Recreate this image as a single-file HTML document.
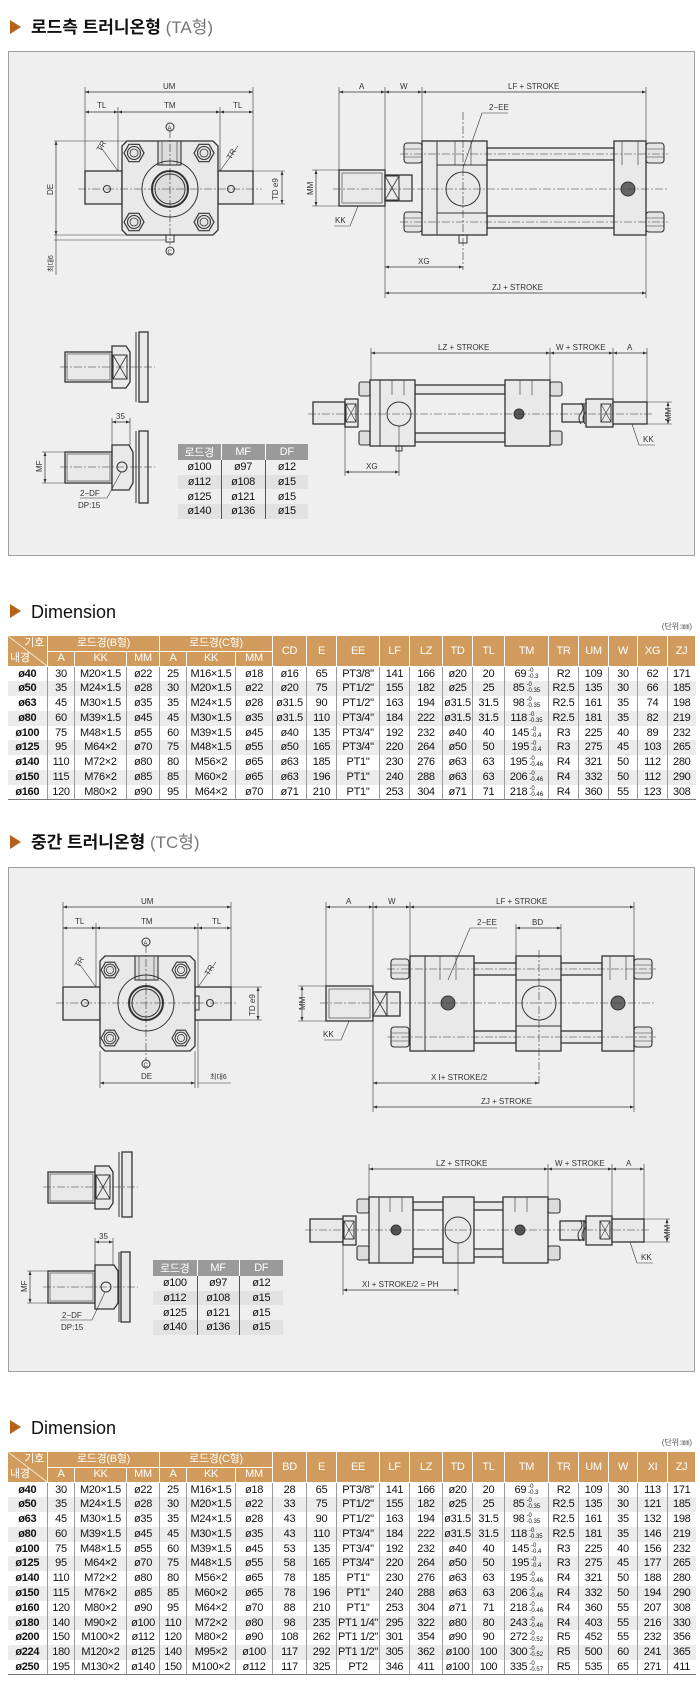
<!DOCTYPE html>
<html><head><meta charset="utf-8">
<style>
*{margin:0;padding:0;box-sizing:border-box}
body{width:700px;height:1700px;background:#fff;position:relative;overflow:hidden;font-family:"Liberation Sans Narrow","Liberation Sans","Noto Sans CJK KR",sans-serif}
.ttl{position:absolute;left:10px;font:bold 17px "Liberation Sans","Noto Sans CJK KR",sans-serif;color:#111;line-height:20px}
.ttl i{display:inline-block;width:0;height:0;border-left:11px solid #b4611a;border-top:7px solid transparent;border-bottom:7px solid transparent;margin-right:10px;vertical-align:-1px}
.ttl span{font-weight:normal;color:#777}
.dim{position:absolute;left:10px;font:18px "Liberation Sans",sans-serif;color:#111;line-height:20px}
.dim i{display:inline-block;width:0;height:0;border-left:11px solid #b4611a;border-top:7px solid transparent;border-bottom:7px solid transparent;margin-right:10px;vertical-align:0}
.unit{position:absolute;right:8px;font:8px "Liberation Sans","Noto Sans CJK KR",sans-serif;color:#555}
.box{position:absolute;left:8px;width:687px;background:#efefef;border:1px solid #a0a0a0}
table.dt{position:absolute;left:7px;width:688px;border-collapse:collapse;table-layout:fixed;font-size:11px;letter-spacing:-.3px;color:#111}
table.dt th{background:#d19b5d;color:#fff;font-weight:normal;border:1px solid #fff;height:15.5px;padding:0;text-align:center;line-height:13px}
table.dt td{height:14.8px;padding:0;text-align:center;border-left:1px solid #9a9a9a;line-height:13px;white-space:nowrap;overflow:hidden}
table.dt td:first-child{border-left:none;font-weight:bold}
table.dt tr:nth-child(even) td{background:#ececec}
table.dt tbody tr:last-child td{border-bottom:1.5px solid #777}
.tol{display:inline-block;font-size:6px;line-height:6px;vertical-align:middle;text-align:left;margin-left:2px;letter-spacing:0}
th.dg{position:relative;background:linear-gradient(to top right,#d19b5d 49%,#fff 50%,#d19b5d 52%) !important}
th.dg b{position:absolute;right:3px;top:1px;font-weight:normal}
th.dg u{position:absolute;left:2px;bottom:1px;text-decoration:none}
table.sm{position:absolute;border-collapse:collapse;table-layout:fixed;font-size:11px;color:#111;letter-spacing:-.3px}
table.sm th{background:#9a9a9a;color:#fff;font-weight:normal;height:15px;padding:0;border-left:1px solid #fff}
table.sm td{height:14.7px;padding:0;text-align:center;border-left:1px solid #555}
table.sm th:first-child,table.sm td:first-child{border-left:none}
table.sm tr:nth-child(odd) td{background:#e2e2e2}
svg{position:absolute;left:0;top:0}
.l{stroke:#333;fill:none;stroke-width:1}
.p{stroke:#333;fill:#e9e9e9;stroke-width:1.3}
.q{stroke:#333;fill:#dcdcdc;stroke-width:1.1}
.c{stroke:#333;stroke-dasharray:8 2 2 2;stroke-width:.6;fill:none}
.d{stroke:#333;stroke-width:.7;fill:none;marker-start:url(#ar);marker-end:url(#ar)}
.e{stroke:#333;stroke-width:.6;fill:none}
.t{font:8px "Liberation Sans Narrow","Liberation Sans","Noto Sans CJK KR",sans-serif;fill:#333}
</style></head><body>

<div class="ttl" style="top:18px"><i></i>로드측 트러니온형 <span>(TA형)</span></div>
<div class="box" style="top:51px;height:505px"></div>

<div class="ttl" style="top:833px"><i></i>중간 트러니온형 <span>(TC형)</span></div>
<div class="box" style="top:867px;height:505px"></div>

<svg width="700" height="1700" viewBox="0 0 700 1700">
<defs>
<marker id="ar" viewBox="0 0 8 6" refX="8" refY="3" markerWidth="6" markerHeight="4.5" orient="auto-start-reverse"><path d="M0 0L8 3L0 6z" fill="#333"/></marker>
<g id="nut"><polygon points="-10,0 -5,-8.7 5,-8.7 10,0 5,8.7 -5,8.7" fill="#e4e4e4" stroke="#333" stroke-width="1.2"/><circle r="6.5" fill="none" stroke="#333" stroke-width="1.1"/><circle r="4" fill="none" stroke="#333" stroke-width=".8"/></g>
<g id="sn"><rect x="-9" y="-10" width="18" height="20" rx="3" fill="#e4e4e4" stroke="#333" stroke-width="1.1"/><line x1="-9" y1="-4" x2="9" y2="-4" class="e"/><line x1="-9" y1="4" x2="9" y2="4" class="e"/></g>
<g id="x"><rect x="0" y="0" width="14" height="24" fill="none" stroke="#333"/><path d="M0 0L14 24M14 0L0 24" stroke="#333" stroke-width=".8"/></g>
</defs>

<!-- ===== BOX 1 FRONT VIEW ===== -->
<line class="d" x1="85" y1="92" x2="253" y2="92"/><text class="t" x="163" y="89">UM</text>
<line class="e" x1="85" y1="87" x2="85" y2="171"/><line class="e" x1="253" y1="87" x2="253" y2="171"/>
<line class="d" x1="85" y1="112" x2="118" y2="112"/><line class="d" x1="118" y1="112" x2="220" y2="112"/><line class="d" x1="220" y1="112" x2="253" y2="112"/>
<line class="e" x1="118" y1="107" x2="118" y2="171"/><line class="e" x1="220" y1="107" x2="220" y2="171"/>
<text class="t" x="97" y="108">TL</text><text class="t" x="164" y="108">TM</text><text class="t" x="233" y="108">TL</text>
<rect class="p" x="85" y="171" width="37" height="33"/><rect class="p" x="218" y="171" width="35" height="33"/>
<polygon class="p" points="127,141 213,141 218,146 218,230 213,235 127,235 122,230 122,146"/>
<rect class="q" x="158" y="141" width="23" height="24"/><line class="e" x1="162" y1="141" x2="162" y2="165"/><line class="e" x1="177" y1="141" x2="177" y2="165"/>
<circle class="l" cx="170" cy="189" r="28" stroke-width="1.2"/><circle cx="170" cy="189" r="18" fill="#ddd" stroke="#333" stroke-width="2"/><circle class="l" cx="170" cy="189" r="15"/>
<use href="#nut" x="134" y="153"/><use href="#nut" x="204" y="153"/><use href="#nut" x="134" y="222"/><use href="#nut" x="204" y="222"/>
<line class="c" x1="78" y1="189" x2="262" y2="189"/><line class="c" x1="170" y1="130" x2="170" y2="245"/>
<circle class="l" cx="107" cy="189" r="3.5"/><circle class="l" cx="231" cy="189" r="3.5"/>
<rect class="l" x="166" y="235" width="8" height="7"/>
<circle class="l" cx="170" cy="127" r="4"/><text class="t" x="167.5" y="130" style="font-size:6px">A</text>
<circle class="l" cx="170" cy="251" r="4"/><text class="t" x="167.5" y="254" style="font-size:6px">C</text>
<line class="e" x1="54" y1="141" x2="127" y2="141"/><line class="e" x1="54" y1="235" x2="166" y2="235"/><line class="e" x1="54" y1="240" x2="166" y2="240"/>
<line class="d" x1="56" y1="141" x2="56" y2="235"/><line class="e" x1="56" y1="235" x2="56" y2="275"/>
<text class="t" transform="translate(53,195) rotate(-90)">DE</text>
<text class="t" transform="translate(53,272) rotate(-90)" style="font-size:7px">최대6</text>
<line class="e" x1="253" y1="171" x2="285" y2="171"/><line class="e" x1="253" y1="204" x2="285" y2="204"/><line class="d" x1="282" y1="171" x2="282" y2="204"/>
<text class="t" transform="translate(278,200) rotate(-90)">TD e9</text>
<line class="e" x1="118" y1="171" x2="100" y2="146"/><text class="t" transform="translate(101,152) rotate(-60)">TR</text>
<line class="e" x1="220" y1="171" x2="238" y2="146"/><text class="t" transform="translate(231,160) rotate(-60)">TR</text>

<!-- ===== BOX 1 SIDE VIEW ===== -->
<line class="d" x1="339" y1="92" x2="385" y2="92"/><line class="d" x1="385" y1="92" x2="422" y2="92"/><line class="d" x1="422" y1="92" x2="646" y2="92"/>
<text class="t" x="359" y="89">A</text><text class="t" x="400" y="89">W</text><text class="t" x="508" y="89">LF + STROKE</text>
<line class="e" x1="339" y1="87" x2="339" y2="170"/><line class="e" x1="385" y1="87" x2="385" y2="298"/><line class="e" x1="422" y1="87" x2="422" y2="141"/><line class="e" x1="646" y1="87" x2="646" y2="298"/>
<rect class="p" x="487" y="148" width="127" height="12"/><rect class="p" x="487" y="216" width="127" height="12"/>
<rect class="p" x="339" y="170" width="46" height="36"/><rect class="e" x="342" y="173" width="40" height="30"/>
<rect class="p" x="385" y="175" width="27" height="26"/><use href="#x" x="385" y="176"/>
<use href="#sn" x="413" y="153"/><use href="#sn" x="413" y="222"/><use href="#sn" x="655" y="153"/><use href="#sn" x="655" y="222"/>
<rect class="p" x="422" y="141" width="65" height="94"/><line class="l" x1="437" y1="141" x2="437" y2="235"/><line class="l" x1="437" y1="165" x2="487" y2="165"/><line class="l" x1="437" y1="213" x2="487" y2="213"/>
<rect class="p" x="614" y="141" width="32" height="94"/>
<line class="e" x1="455" y1="141" x2="455" y2="165"/><line class="e" x1="471" y1="141" x2="471" y2="165"/>
<line class="e" x1="622" y1="141" x2="622" y2="165"/><line class="e" x1="638" y1="141" x2="638" y2="165"/>
<circle class="l" cx="463" cy="189" r="17"/>
<circle cx="628" cy="189" r="7" fill="#666" stroke="#333"/>
<rect class="l" x="459" y="235" width="8" height="8"/>
<line class="c" x1="333" y1="189" x2="668" y2="189"/><line class="c" x1="463" y1="112" x2="463" y2="270"/>
<line class="c" x1="400" y1="154" x2="668" y2="154"/><line class="c" x1="400" y1="222" x2="668" y2="222"/>
<polyline class="e" points="463,168 482,113 508,113"/><text class="t" x="489" y="110">2−EE</text>
<polyline class="e" points="358,206 350,226 334,226"/><text class="t" x="335" y="223">KK</text>
<line class="e" x1="312" y1="170" x2="339" y2="170"/><line class="e" x1="312" y1="206" x2="339" y2="206"/><line class="d" x1="316" y1="170" x2="316" y2="206"/>
<text class="t" transform="translate(313,195) rotate(-90)">MM</text>
<line class="d" x1="385" y1="267" x2="463" y2="267"/><text class="t" x="418" y="264">XG</text>
<line class="d" x1="385" y1="293" x2="646" y2="293"/><text class="t" x="492" y="290">ZJ + STROKE</text>

<!-- ===== BOX 1 SMALL VIEWS ===== -->
<rect class="p" x="65" y="352" width="47" height="30"/><rect class="e" x="67" y="354" width="43" height="26"/>
<polygon class="p" points="112,346 126,346 130,352 130,382 126,388 112,388"/><use href="#x" x="113" y="355" transform="translate(0,0)"/>
<rect class="p" x="139" y="332" width="9" height="70"/><line class="l" x1="136" y1="332" x2="136" y2="402"/>
<line class="c" x1="60" y1="367" x2="155" y2="367"/>
<rect class="p" x="65" y="452" width="47" height="31"/><rect class="e" x="67" y="454" width="43" height="27"/>
<polygon class="p" points="112,445 129,445 133,452 133,483 129,490 112,490"/><circle class="l" cx="122" cy="467" r="5"/>
<rect class="p" x="139" y="431" width="9" height="72"/><line class="l" x1="136" y1="431" x2="136" y2="503"/>
<line class="c" x1="60" y1="467" x2="155" y2="467"/>
<line class="e" x1="112" y1="418" x2="112" y2="445"/><line class="e" x1="130" y1="418" x2="130" y2="445"/><line class="d" x1="112" y1="422" x2="130" y2="422"/><text class="t" x="116" y="419">35</text>
<line class="e" x1="42" y1="452" x2="65" y2="452"/><line class="e" x1="42" y1="483" x2="65" y2="483"/><line class="d" x1="45" y1="452" x2="45" y2="483"/>
<text class="t" transform="translate(42,472) rotate(-90)">MF</text>
<polyline class="e" points="121,472 107,498 80,498"/><text class="t" x="80" y="496">2−DF</text><text class="t" x="78" y="508">DP:15</text>

<!-- ===== BOX 1 LOWER SIDE VIEW ===== -->
<line class="d" x1="371" y1="353" x2="550" y2="353"/><line class="d" x1="550" y1="353" x2="613" y2="353"/><line class="d" x1="613" y1="353" x2="647" y2="353"/>
<text class="t" x="438" y="350">LZ + STROKE</text><text class="t" x="556" y="350">W + STROKE</text><text class="t" x="627" y="350">A</text>
<line class="e" x1="371" y1="348" x2="371" y2="380"/><line class="e" x1="550" y1="348" x2="550" y2="380"/><line class="e" x1="613" y1="348" x2="613" y2="402"/><line class="e" x1="647" y1="348" x2="647" y2="402"/>
<rect class="p" x="415" y="385" width="90" height="9"/><rect class="p" x="415" y="433" width="90" height="9"/>
<rect class="p" x="313" y="402" width="32" height="22"/>
<rect class="p" x="345" y="399" width="13" height="28"/><rect class="l" x="346" y="404" width="10" height="18"/><path d="M346 404L356 422M356 404L346 422" class="e"/>
<rect class="q" x="359" y="382" width="11" height="14" rx="2"/><rect class="q" x="359" y="431" width="11" height="14" rx="2"/>
<rect class="q" x="550" y="382" width="12" height="14" rx="2"/><rect class="q" x="550" y="431" width="12" height="14" rx="2"/>
<rect class="p" x="370" y="380" width="45" height="66"/><line class="l" x1="380" y1="380" x2="380" y2="446"/>
<rect class="p" x="505" y="380" width="45" height="66"/>
<line class="e" x1="392" y1="380" x2="392" y2="395"/><line class="e" x1="404" y1="380" x2="404" y2="395"/>
<line class="e" x1="520" y1="380" x2="520" y2="395"/><line class="e" x1="532" y1="380" x2="532" y2="395"/>
<rect class="p" x="562" y="404" width="22" height="18"/><path d="M581 403q4 5 0 10q-4 5 0 11M585 403q4 5 0 10q-4 5 0 11" class="l"/>
<rect class="p" x="586" y="399" width="27" height="28"/><rect class="l" x="601" y="404" width="10" height="18"/><path d="M601 404L611 422M611 404L601 422" class="e"/>
<rect class="p" x="613" y="402" width="34" height="22"/>
<circle class="l" cx="399" cy="414" r="12"/><circle cx="519" cy="414" r="5" fill="#555" stroke="#333"/>
<rect class="l" x="396" y="446" width="6" height="5"/>
<line class="c" x1="308" y1="414" x2="652" y2="414"/>
<line class="e" x1="345" y1="427" x2="345" y2="476"/><line class="e" x1="399" y1="426" x2="399" y2="476"/>
<line class="d" x1="345" y1="472" x2="399" y2="472"/><text class="t" x="366" y="469">XG</text>
<line class="e" x1="647" y1="402" x2="672" y2="402"/><line class="e" x1="647" y1="424" x2="672" y2="424"/><line class="d" x1="668" y1="402" x2="668" y2="424"/>
<text class="t" transform="translate(671,421) rotate(-90)">MM</text>
<polyline class="e" points="632,424 639,445 655,445"/><text class="t" x="643" y="442">KK</text>

<!-- ===== BOX 2 FRONT VIEW ===== -->
<line class="d" x1="63" y1="907" x2="231" y2="907"/><text class="t" x="141" y="904">UM</text>
<line class="e" x1="63" y1="902" x2="63" y2="987"/><line class="e" x1="231" y1="902" x2="231" y2="987"/>
<line class="d" x1="63" y1="928" x2="96" y2="928"/><line class="d" x1="96" y1="928" x2="198" y2="928"/><line class="d" x1="198" y1="928" x2="231" y2="928"/>
<line class="e" x1="96" y1="923" x2="96" y2="987"/><line class="e" x1="198" y1="923" x2="198" y2="987"/>
<text class="t" x="75" y="924">TL</text><text class="t" x="141" y="924">TM</text><text class="t" x="212" y="924">TL</text>
<rect class="p" x="63" y="987" width="37" height="33"/><rect class="p" x="195" y="987" width="36" height="33"/>
<polygon class="p" points="105,956 190,956 195,961 195,1046 190,1051 105,1051 100,1046 100,961"/>
<rect class="q" x="135" y="956" width="23" height="24"/><line class="e" x1="139" y1="956" x2="139" y2="980"/><line class="e" x1="154" y1="956" x2="154" y2="980"/>
<circle class="l" cx="146" cy="1003" r="28" stroke-width="1.2"/><circle cx="146" cy="1003" r="17" fill="#ddd" stroke="#333" stroke-width="2"/><circle class="l" cx="146" cy="1003" r="14"/>
<use href="#nut" transform="translate(110,970) scale(.9)"/><use href="#nut" transform="translate(181,970) scale(.9)"/><use href="#nut" transform="translate(110,1038) scale(.9)"/><use href="#nut" transform="translate(181,1038) scale(.9)"/>
<rect class="l" x="195" y="996" width="4" height="14"/>
<line class="c" x1="56" y1="1003" x2="238" y2="1003"/><line class="c" x1="146" y1="945" x2="146" y2="1060"/>
<circle class="l" cx="85" cy="1003" r="3.5"/><circle class="l" cx="210" cy="1003" r="3.5"/>
<circle class="l" cx="146" cy="942" r="4"/><text class="t" x="143.5" y="945" style="font-size:6px">A</text>
<circle class="l" cx="146" cy="1064" r="4"/><text class="t" x="143.5" y="1067" style="font-size:6px">C</text>
<line class="e" x1="100" y1="1051" x2="100" y2="1088"/><line class="e" x1="195" y1="1051" x2="195" y2="1088"/><line class="e" x1="198" y1="1020" x2="198" y2="1088"/>
<line class="d" x1="100" y1="1083" x2="195" y2="1083"/><text class="t" x="141" y="1079">DE</text>
<line class="e" x1="198" y1="1083" x2="231" y2="1083"/><text class="t" x="210" y="1079" style="font-size:7px">최대6</text>
<line class="e" x1="231" y1="987" x2="262" y2="987"/><line class="e" x1="231" y1="1020" x2="262" y2="1020"/><line class="d" x1="258" y1="987" x2="258" y2="1020"/>
<text class="t" transform="translate(255,1016) rotate(-90)">TD e9</text>
<line class="e" x1="96" y1="987" x2="78" y2="962"/><text class="t" transform="translate(79,968) rotate(-60)">TR</text>
<line class="e" x1="198" y1="987" x2="216" y2="962"/><text class="t" transform="translate(209,976) rotate(-60)">TR</text>

<!-- ===== BOX 2 SIDE VIEW ===== -->
<line class="d" x1="326" y1="907" x2="373" y2="907"/><line class="d" x1="373" y1="907" x2="410" y2="907"/><line class="d" x1="410" y1="907" x2="634" y2="907"/>
<text class="t" x="346" y="904">A</text><text class="t" x="388" y="904">W</text><text class="t" x="496" y="904">LF + STROKE</text>
<line class="e" x1="326" y1="902" x2="326" y2="986"/><line class="e" x1="373" y1="902" x2="373" y2="1112"/><line class="e" x1="410" y1="902" x2="410" y2="956"/><line class="e" x1="634" y1="902" x2="634" y2="1112"/>
<rect class="p" x="474" y="963" width="128" height="12"/><rect class="p" x="474" y="1031" width="128" height="12"/>
<rect class="p" x="326" y="986" width="47" height="35"/><rect class="e" x="329" y="989" width="41" height="29"/>
<rect class="p" x="373" y="992" width="27" height="24"/><use href="#x" x="373" y="992"/>
<use href="#sn" x="400" y="969"/><use href="#sn" x="400" y="1037"/><use href="#sn" x="643" y="969"/><use href="#sn" x="643" y="1037"/>
<rect class="p" x="410" y="956" width="64" height="95"/><line class="l" x1="425" y1="956" x2="425" y2="1051"/>
<rect class="p" x="516" y="956" width="45" height="95"/><line class="l" x1="516" y1="980" x2="561" y2="980"/><line class="l" x1="516" y1="1026" x2="561" y2="1026"/>
<rect class="p" x="602" y="956" width="32" height="95"/>
<line class="e" x1="440" y1="956" x2="440" y2="980"/><line class="e" x1="456" y1="956" x2="456" y2="980"/>
<line class="e" x1="610" y1="956" x2="610" y2="980"/><line class="e" x1="626" y1="956" x2="626" y2="980"/>
<circle cx="448" cy="1003" r="7" fill="#666" stroke="#333"/><circle cx="618" cy="1003" r="7" fill="#666" stroke="#333"/>
<circle class="l" cx="539" cy="1003" r="17"/>
<line class="c" x1="320" y1="1003" x2="656" y2="1003"/><line class="c" x1="539" y1="950" x2="539" y2="1086"/>
<line class="c" x1="387" y1="969" x2="656" y2="969"/><line class="c" x1="387" y1="1037" x2="656" y2="1037"/>
<line class="e" x1="516" y1="924" x2="516" y2="956"/><line class="e" x1="561" y1="924" x2="561" y2="956"/>
<line class="d" x1="516" y1="928" x2="561" y2="928"/><text class="t" x="532" y="925">BD</text>
<polyline class="e" points="448,980 470,928 497,928"/><text class="t" x="477" y="925">2−EE</text>
<polyline class="e" points="349,1021 341,1040 324,1040"/><text class="t" x="323" y="1037">KK</text>
<line class="e" x1="298" y1="986" x2="326" y2="986"/><line class="e" x1="298" y1="1021" x2="326" y2="1021"/><line class="d" x1="302" y1="986" x2="302" y2="1021"/>
<text class="t" transform="translate(305,1010) rotate(-90)">MM</text>
<line class="d" x1="373" y1="1083" x2="539" y2="1083"/><text class="t" x="431" y="1080">X I+ STROKE/2</text>
<line class="d" x1="373" y1="1107" x2="634" y2="1107"/><text class="t" x="481" y="1104">ZJ + STROKE</text>

<!-- ===== BOX 2 SMALL VIEWS ===== -->
<rect class="p" x="48" y="1172" width="47" height="31"/><rect class="e" x="50" y="1174" width="43" height="27"/>
<polygon class="p" points="95,1166 109,1166 113,1172 113,1203 109,1209 95,1209"/><use href="#x" x="96" y="1175"/>
<rect class="p" x="122" y="1152" width="10" height="65"/><line class="l" x1="119" y1="1152" x2="119" y2="1217"/>
<line class="c" x1="43" y1="1187" x2="138" y2="1187"/>
<rect class="p" x="48" y="1271" width="47" height="32"/><rect class="e" x="50" y="1273" width="43" height="28"/>
<polygon class="p" points="95,1265 114,1265 118,1271 118,1303 114,1309 95,1309"/><circle class="l" cx="106" cy="1287" r="5"/>
<rect class="p" x="121" y="1252" width="9" height="70"/><line class="l" x1="119" y1="1252" x2="119" y2="1322"/>
<line class="c" x1="43" y1="1287" x2="138" y2="1287"/>
<line class="e" x1="95" y1="1238" x2="95" y2="1265"/><line class="e" x1="113" y1="1238" x2="113" y2="1265"/><line class="d" x1="95" y1="1242" x2="113" y2="1242"/><text class="t" x="99" y="1239">35</text>
<line class="e" x1="27" y1="1271" x2="48" y2="1271"/><line class="e" x1="27" y1="1303" x2="48" y2="1303"/><line class="d" x1="30" y1="1271" x2="30" y2="1303"/>
<text class="t" transform="translate(27,1292) rotate(-90)">MF</text>
<polyline class="e" points="105,1292 92,1320 60,1320"/><text class="t" x="62" y="1318">2−DF</text><text class="t" x="61" y="1330">DP:15</text>

<!-- ===== BOX 2 LOWER SIDE VIEW ===== -->
<line class="d" x1="369" y1="1169" x2="548" y2="1169"/><line class="d" x1="548" y1="1169" x2="612" y2="1169"/><line class="d" x1="612" y1="1169" x2="644" y2="1169"/>
<text class="t" x="436" y="1166">LZ + STROKE</text><text class="t" x="555" y="1166">W + STROKE</text><text class="t" x="626" y="1166">A</text>
<line class="e" x1="369" y1="1164" x2="369" y2="1197"/><line class="e" x1="548" y1="1164" x2="548" y2="1197"/><line class="e" x1="612" y1="1164" x2="612" y2="1219"/><line class="e" x1="644" y1="1164" x2="644" y2="1219"/>
<rect class="p" x="413" y="1202" width="135" height="8"/><rect class="p" x="413" y="1249" width="135" height="8"/>
<rect class="p" x="310" y="1219" width="33" height="23"/>
<rect class="p" x="343" y="1216" width="13" height="29"/><rect class="l" x="344" y="1221" width="10" height="18"/><path d="M344 1221L354 1239M354 1221L344 1239" class="e"/>
<rect class="q" x="357" y="1199" width="12" height="14" rx="2"/><rect class="q" x="357" y="1246" width="12" height="14" rx="2"/>
<rect class="q" x="548" y="1199" width="12" height="14" rx="2"/><rect class="q" x="548" y="1246" width="12" height="14" rx="2"/>
<rect class="p" x="369" y="1197" width="44" height="66"/><line class="l" x1="379" y1="1197" x2="379" y2="1263"/>
<rect class="p" x="443" y="1197" width="31" height="66"/>
<rect class="p" x="503" y="1197" width="45" height="66"/>
<line class="e" x1="390" y1="1197" x2="390" y2="1212"/><line class="e" x1="402" y1="1197" x2="402" y2="1212"/>
<line class="e" x1="515" y1="1197" x2="515" y2="1212"/><line class="e" x1="527" y1="1197" x2="527" y2="1212"/>
<rect class="p" x="560" y="1221" width="24" height="19"/><path d="M580 1220q4 5 0 10q-4 5 0 11M584 1220q4 5 0 10q-4 5 0 11" class="l"/>
<rect class="p" x="586" y="1216" width="26" height="29"/><rect class="l" x="600" y="1221" width="10" height="18"/><path d="M600 1221L610 1239M610 1221L600 1239" class="e"/>
<rect class="p" x="612" y="1219" width="32" height="23"/>
<circle cx="396" cy="1230" r="5" fill="#555" stroke="#333"/><circle cx="520" cy="1230" r="5" fill="#555" stroke="#333"/>
<circle class="l" cx="458" cy="1230" r="13"/>
<line class="c" x1="305" y1="1230" x2="650" y2="1230"/>
<line class="e" x1="343" y1="1245" x2="343" y2="1295"/><line class="e" x1="458" y1="1243" x2="458" y2="1295"/>
<line class="d" x1="343" y1="1290" x2="458" y2="1290"/><text class="t" x="362" y="1287">XI + STROKE/2 = PH</text>
<line class="e" x1="644" y1="1219" x2="670" y2="1219"/><line class="e" x1="644" y1="1242" x2="670" y2="1242"/><line class="d" x1="667" y1="1219" x2="667" y2="1242"/>
<text class="t" transform="translate(670,1238) rotate(-90)">MM</text>
<polyline class="e" points="630,1242 637,1263 653,1263"/><text class="t" x="641" y="1260">KK</text>
</svg>

<table class="sm" style="left:178px;top:444px;width:130px">
<colgroup><col style="width:43px"><col style="width:44px"><col style="width:43px"></colgroup>
<tr><th>로드경</th><th>MF</th><th>DF</th></tr>
<tr><td>ø100</td><td>ø97</td><td>ø12</td></tr>
<tr><td>ø112</td><td>ø108</td><td>ø15</td></tr>
<tr><td>ø125</td><td>ø121</td><td>ø15</td></tr>
<tr><td>ø140</td><td>ø136</td><td>ø15</td></tr>
</table>
<table class="sm" style="left:153px;top:1260px;width:130px">
<colgroup><col style="width:44px"><col style="width:42px"><col style="width:44px"></colgroup>
<tr><th>로드경</th><th>MF</th><th>DF</th></tr>
<tr><td>ø100</td><td>ø97</td><td>ø12</td></tr>
<tr><td>ø112</td><td>ø108</td><td>ø15</td></tr>
<tr><td>ø125</td><td>ø121</td><td>ø15</td></tr>
<tr><td>ø140</td><td>ø136</td><td>ø15</td></tr>
</table>

<div class="dim" style="top:602px"><i></i>Dimension</div>
<div class="unit" style="top:621px">(단위:㎜)</div>
<table class="dt" style="top:635px">
<colgroup><col style="width:40px"><col style="width:27px"><col style="width:52px"><col style="width:33px"><col style="width:27px"><col style="width:49px"><col style="width:37px"><col style="width:34px"><col style="width:30px"><col style="width:43px"><col style="width:30px"><col style="width:33px"><col style="width:30px"><col style="width:32px"><col style="width:44px"><col style="width:30px"><col style="width:30px"><col style="width:29px"><col style="width:30px"><col style="width:28px"></colgroup>
<thead>
<tr><th rowspan="2" class="dg"><b>기호</b><u>내경</u></th><th colspan="3">로드경(B형)</th><th colspan="3">로드경(C형)</th><th rowspan="2">CD</th><th rowspan="2">E</th><th rowspan="2">EE</th><th rowspan="2">LF</th><th rowspan="2">LZ</th><th rowspan="2">TD</th><th rowspan="2">TL</th><th rowspan="2">TM</th><th rowspan="2">TR</th><th rowspan="2">UM</th><th rowspan="2">W</th><th rowspan="2">XG</th><th rowspan="2">ZJ</th></tr>
<tr><th>A</th><th>KK</th><th>MM</th><th>A</th><th>KK</th><th>MM</th></tr>
</thead>
<tbody>
<tr><td>ø40</td><td>30</td><td>M20×1.5</td><td>ø22</td><td>25</td><td>M16×1.5</td><td>ø18</td><td>ø16</td><td>65</td><td>PT3/8"</td><td>141</td><td>166</td><td>ø20</td><td>20</td><td>69<span class="tol">-0<br>-0.3</span></td><td>R2</td><td>109</td><td>30</td><td>62</td><td>171</td></tr>
<tr><td>ø50</td><td>35</td><td>M24×1.5</td><td>ø28</td><td>30</td><td>M20×1.5</td><td>ø22</td><td>ø20</td><td>75</td><td>PT1/2"</td><td>155</td><td>182</td><td>ø25</td><td>25</td><td>85<span class="tol">-0<br>-0.35</span></td><td>R2.5</td><td>135</td><td>30</td><td>66</td><td>185</td></tr>
<tr><td>ø63</td><td>45</td><td>M30×1.5</td><td>ø35</td><td>35</td><td>M24×1.5</td><td>ø28</td><td>ø31.5</td><td>90</td><td>PT1/2"</td><td>163</td><td>194</td><td>ø31.5</td><td>31.5</td><td>98<span class="tol">-0<br>-0.35</span></td><td>R2.5</td><td>161</td><td>35</td><td>74</td><td>198</td></tr>
<tr><td>ø80</td><td>60</td><td>M39×1.5</td><td>ø45</td><td>45</td><td>M30×1.5</td><td>ø35</td><td>ø31.5</td><td>110</td><td>PT3/4"</td><td>184</td><td>222</td><td>ø31.5</td><td>31.5</td><td>118<span class="tol">-0<br>-0.35</span></td><td>R2.5</td><td>181</td><td>35</td><td>82</td><td>219</td></tr>
<tr><td>ø100</td><td>75</td><td>M48×1.5</td><td>ø55</td><td>60</td><td>M39×1.5</td><td>ø45</td><td>ø40</td><td>135</td><td>PT3/4"</td><td>192</td><td>232</td><td>ø40</td><td>40</td><td>145<span class="tol">-0<br>-0.4</span></td><td>R3</td><td>225</td><td>40</td><td>89</td><td>232</td></tr>
<tr><td>ø125</td><td>95</td><td>M64×2</td><td>ø70</td><td>75</td><td>M48×1.5</td><td>ø55</td><td>ø50</td><td>165</td><td>PT3/4"</td><td>220</td><td>264</td><td>ø50</td><td>50</td><td>195<span class="tol">-0<br>-0.4</span></td><td>R3</td><td>275</td><td>45</td><td>103</td><td>265</td></tr>
<tr><td>ø140</td><td>110</td><td>M72×2</td><td>ø80</td><td>80</td><td>M56×2</td><td>ø65</td><td>ø63</td><td>185</td><td>PT1"</td><td>230</td><td>276</td><td>ø63</td><td>63</td><td>195<span class="tol">-0<br>-0.46</span></td><td>R4</td><td>321</td><td>50</td><td>112</td><td>280</td></tr>
<tr><td>ø150</td><td>115</td><td>M76×2</td><td>ø85</td><td>85</td><td>M60×2</td><td>ø65</td><td>ø63</td><td>196</td><td>PT1"</td><td>240</td><td>288</td><td>ø63</td><td>63</td><td>206<span class="tol">-0<br>-0.46</span></td><td>R4</td><td>332</td><td>50</td><td>112</td><td>290</td></tr>
<tr><td>ø160</td><td>120</td><td>M80×2</td><td>ø90</td><td>95</td><td>M64×2</td><td>ø70</td><td>ø71</td><td>210</td><td>PT1"</td><td>253</td><td>304</td><td>ø71</td><td>71</td><td>218<span class="tol">-0<br>-0.46</span></td><td>R4</td><td>360</td><td>55</td><td>123</td><td>308</td></tr>
</tbody></table>

<div class="dim" style="top:1418px"><i></i>Dimension</div>
<div class="unit" style="top:1437px">(단위:㎜)</div>
<table class="dt" style="top:1451px">
<colgroup><col style="width:40px"><col style="width:27px"><col style="width:52px"><col style="width:33px"><col style="width:27px"><col style="width:49px"><col style="width:37px"><col style="width:34px"><col style="width:30px"><col style="width:43px"><col style="width:30px"><col style="width:33px"><col style="width:30px"><col style="width:32px"><col style="width:44px"><col style="width:30px"><col style="width:30px"><col style="width:29px"><col style="width:30px"><col style="width:28px"></colgroup>
<thead>
<tr><th rowspan="2" class="dg"><b>기호</b><u>내경</u></th><th colspan="3">로드경(B형)</th><th colspan="3">로드경(C형)</th><th rowspan="2">BD</th><th rowspan="2">E</th><th rowspan="2">EE</th><th rowspan="2">LF</th><th rowspan="2">LZ</th><th rowspan="2">TD</th><th rowspan="2">TL</th><th rowspan="2">TM</th><th rowspan="2">TR</th><th rowspan="2">UM</th><th rowspan="2">W</th><th rowspan="2">XI</th><th rowspan="2">ZJ</th></tr>
<tr><th>A</th><th>KK</th><th>MM</th><th>A</th><th>KK</th><th>MM</th></tr>
</thead>
<tbody>
<tr><td>ø40</td><td>30</td><td>M20×1.5</td><td>ø22</td><td>25</td><td>M16×1.5</td><td>ø18</td><td>28</td><td>65</td><td>PT3/8"</td><td>141</td><td>166</td><td>ø20</td><td>20</td><td>69<span class="tol">-0<br>-0.3</span></td><td>R2</td><td>109</td><td>30</td><td>113</td><td>171</td></tr>
<tr><td>ø50</td><td>35</td><td>M24×1.5</td><td>ø28</td><td>30</td><td>M20×1.5</td><td>ø22</td><td>33</td><td>75</td><td>PT1/2"</td><td>155</td><td>182</td><td>ø25</td><td>25</td><td>85<span class="tol">-0<br>-0.35</span></td><td>R2.5</td><td>135</td><td>30</td><td>121</td><td>185</td></tr>
<tr><td>ø63</td><td>45</td><td>M30×1.5</td><td>ø35</td><td>35</td><td>M24×1.5</td><td>ø28</td><td>43</td><td>90</td><td>PT1/2"</td><td>163</td><td>194</td><td>ø31.5</td><td>31.5</td><td>98<span class="tol">-0<br>-0.35</span></td><td>R2.5</td><td>161</td><td>35</td><td>132</td><td>198</td></tr>
<tr><td>ø80</td><td>60</td><td>M39×1.5</td><td>ø45</td><td>45</td><td>M30×1.5</td><td>ø35</td><td>43</td><td>110</td><td>PT3/4"</td><td>184</td><td>222</td><td>ø31.5</td><td>31.5</td><td>118<span class="tol">-0<br>-0.35</span></td><td>R2.5</td><td>181</td><td>35</td><td>146</td><td>219</td></tr>
<tr><td>ø100</td><td>75</td><td>M48×1.5</td><td>ø55</td><td>60</td><td>M39×1.5</td><td>ø45</td><td>53</td><td>135</td><td>PT3/4"</td><td>192</td><td>232</td><td>ø40</td><td>40</td><td>145<span class="tol">-0<br>-0.4</span></td><td>R3</td><td>225</td><td>40</td><td>156</td><td>232</td></tr>
<tr><td>ø125</td><td>95</td><td>M64×2</td><td>ø70</td><td>75</td><td>M48×1.5</td><td>ø55</td><td>58</td><td>165</td><td>PT3/4"</td><td>220</td><td>264</td><td>ø50</td><td>50</td><td>195<span class="tol">-0<br>-0.4</span></td><td>R3</td><td>275</td><td>45</td><td>177</td><td>265</td></tr>
<tr><td>ø140</td><td>110</td><td>M72×2</td><td>ø80</td><td>80</td><td>M56×2</td><td>ø65</td><td>78</td><td>185</td><td>PT1"</td><td>230</td><td>276</td><td>ø63</td><td>63</td><td>195<span class="tol">-0<br>-0.46</span></td><td>R4</td><td>321</td><td>50</td><td>188</td><td>280</td></tr>
<tr><td>ø150</td><td>115</td><td>M76×2</td><td>ø85</td><td>85</td><td>M60×2</td><td>ø65</td><td>78</td><td>196</td><td>PT1"</td><td>240</td><td>288</td><td>ø63</td><td>63</td><td>206<span class="tol">-0<br>-0.46</span></td><td>R4</td><td>332</td><td>50</td><td>194</td><td>290</td></tr>
<tr><td>ø160</td><td>120</td><td>M80×2</td><td>ø90</td><td>95</td><td>M64×2</td><td>ø70</td><td>88</td><td>210</td><td>PT1"</td><td>253</td><td>304</td><td>ø71</td><td>71</td><td>218<span class="tol">-0<br>-0.46</span></td><td>R4</td><td>360</td><td>55</td><td>207</td><td>308</td></tr>
<tr><td>ø180</td><td>140</td><td>M90×2</td><td>ø100</td><td>110</td><td>M72×2</td><td>ø80</td><td>98</td><td>235</td><td>PT1 1/4"</td><td>295</td><td>322</td><td>ø80</td><td>80</td><td>243<span class="tol">-0<br>-0.46</span></td><td>R4</td><td>403</td><td>55</td><td>216</td><td>330</td></tr>
<tr><td>ø200</td><td>150</td><td>M100×2</td><td>ø112</td><td>120</td><td>M80×2</td><td>ø90</td><td>108</td><td>262</td><td>PT1 1/2"</td><td>301</td><td>354</td><td>ø90</td><td>90</td><td>272<span class="tol">-0<br>-0.52</span></td><td>R5</td><td>452</td><td>55</td><td>232</td><td>356</td></tr>
<tr><td>ø224</td><td>180</td><td>M120×2</td><td>ø125</td><td>140</td><td>M95×2</td><td>ø100</td><td>117</td><td>292</td><td>PT1 1/2"</td><td>305</td><td>362</td><td>ø100</td><td>100</td><td>300<span class="tol">-0<br>-0.52</span></td><td>R5</td><td>500</td><td>60</td><td>241</td><td>365</td></tr>
<tr><td>ø250</td><td>195</td><td>M130×2</td><td>ø140</td><td>150</td><td>M100×2</td><td>ø112</td><td>117</td><td>325</td><td>PT2</td><td>346</td><td>411</td><td>ø100</td><td>100</td><td>335<span class="tol">-0<br>-0.57</span></td><td>R5</td><td>535</td><td>65</td><td>271</td><td>411</td></tr>
</tbody></table>
</body></html>
